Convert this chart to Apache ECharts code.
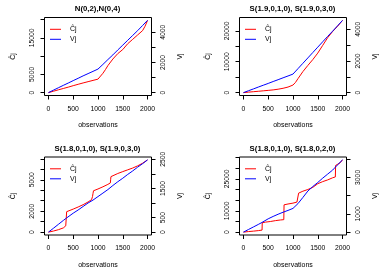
<!DOCTYPE html>
<html><head><meta charset="utf-8">
<script src="https://cdn.jsdelivr.net/npm/echarts@6/dist/echarts.min.js"></script>
<style>html,body{margin:0;padding:0;background:#fff}#c{width:390px;height:279px}</style>
</head><body><div id="c"></div>
<script>
const titles = ['N(0,2),N(0,4)', 'S(1.9,0,1,0), S(1.9,0,3,0)', 'S(1.8,0,1,0), S(1.9,0,3,0)', 'S(1.8,0,1,0), S(1.8,0,2,0)'];
const seriesNames = ['Ĉj', 'Vj'];
const xTicks = [0, 500, 1000, 1500, 2000];

// Panel 1
const obsC1 = [1,100,200,300,400,500,600,700,800,900,1000,1040,1100,1150,1200,1300,1400,1500,1600,1700,1800,1900,1950,2000];
const cj1 = [0,370,760,1130,1500,1900,2280,2650,3000,3350,3700,4100,5300,6300,7400,9200,10700,11800,13400,14600,15800,17000,18200,19800];
const obsV1 = [1,100,200,300,400,500,600,700,800,900,1000,1100,1200,1300,1400,1500,1600,1700,1800,1900,2000];
const vj1 = [0,160,320,480,635,795,950,1110,1260,1410,1560,1870,2190,2500,2830,3150,3470,3790,4110,4450,4790];
const cTicks1 = [0,5000,10000,15000,20000], cLabels1 = [0,5000,15000];
const vTicks1 = [0,1000,2000,3000,4000], vLabels1 = [0,2000,4000];

// Panel 2
const obsC2 = [1,100,200,300,400,500,600,700,800,900,1000,1050,1100,1200,1300,1400,1500,1600,1700,1800,1900,2000];
const cj2 = [0,150,290,430,580,720,880,1100,1400,1800,2450,3300,4500,6800,8800,10700,12800,15300,17800,19800,21500,23400];
const obsV2 = [1,100,200,300,400,500,600,700,800,900,1000,1100,1200,1300,1400,1500,1600,1700,1800,1900,2000];
const vj2 = [0,115,230,350,465,580,700,815,935,1050,1170,1510,1850,2190,2530,2870,3210,3550,3880,4220,4560];
const cTicks2 = [0,5000,10000,15000,20000], cLabels2 = [0,10000,20000];
const vTicks2 = [0,1000,2000,3000,4000], vLabels2 = [0,2000,4000];

// Panel 3
const obsC3 = [1,100,200,300,350,364,368,400,500,600,700,800,870,880,890,900,910,950,1000,1100,1200,1250,1256,1262,1300,1400,1500,1600,1700,1800,1900,2000];
const cj3 = [0,100,230,400,600,700,1950,2000,2200,2400,2620,2880,3100,3200,3400,3700,3950,4050,4120,4330,4560,4700,5050,5300,5420,5600,5780,5950,6120,6330,6580,6900];
const obsV3 = [1,100,200,300,370,380,500,600,700,800,900,1000,1100,1200,1300,1400,1500,1600,1700,1800,1900,2000];
const vj3 = [0,130,265,400,490,510,650,760,880,1000,1100,1220,1340,1460,1600,1730,1850,1980,2100,2230,2350,2480];
const cTicks3 = [0,1000,2000,3000,4000,5000,6000,7000], cLabels3 = [0,2000,5000];
const vTicks3 = [0,500,1000,1500,2000,2500], vLabels3 = [0,500,1500,2500];

// Panel 4
const obsC4 = [1,100,200,300,376,380,450,550,650,750,815,820,900,1000,1080,1108,1114,1200,1300,1400,1420,1500,1600,1700,1800,1855,1860,1950,2000];
const cj4 = [0,250,450,700,950,4400,4700,5000,5400,5700,5850,12800,13200,13600,14100,14500,18300,19200,20000,21000,21800,22700,23700,24500,25500,25900,31300,32500,33900];
const obsV4 = [1,100,200,300,375,385,500,600,700,800,900,1000,1100,1200,1300,1400,1500,1600,1700,1800,1900,2000];
const vj4 = [0,140,280,420,530,600,730,860,980,1090,1190,1300,1560,1900,2250,2500,2720,2960,3180,3400,3690,3960];
const cTicks4 = [0,5000,10000,15000,20000,25000,30000,35000], cLabels4 = [0,10000,25000];
const vTicks4 = [0,1000,2000,3000,4000], vLabels4 = [0,1000,3000];

const panels = [
  {obsC: obsC1, cj: cj1, obsV: obsV1, vj: vj1, cT: cTicks1, cL: cLabels1, vT: vTicks1, vL: vLabels1},
  {obsC: obsC2, cj: cj2, obsV: obsV2, vj: vj2, cT: cTicks2, cL: cLabels2, vT: vTicks2, vL: vLabels2},
  {obsC: obsC3, cj: cj3, obsV: obsV3, vj: vj3, cT: cTicks3, cL: cLabels3, vT: vTicks3, vL: vLabels3},
  {obsC: obsC4, cj: cj4, obsV: obsV4, vj: vj4, cT: cTicks4, cL: cLabels4, vT: vTicks4, vL: vLabels4}
];

const font = '"Liberation Sans", Arial, Helvetica, sans-serif';
const lblStyle = {fontSize: 6.8, color: '#000', fontFamily: font};
const nameStyle = {fontSize: 7, color: '#000', fontFamily: font};
function pad(arr) { const mn = Math.min(...arr), mx = Math.max(...arr), r = mx - mn; return [mn - 0.04 * r, mx + 0.04 * r]; }
const fmt = v => String(v);

const grids = [], xAxes = [], yAxes = [], series = [], titleArr = [], legends = [];
panels.forEach((p, i) => {
  const px = (i % 2) * 195, py = Math.floor(i / 2) * 139.5;
  const L = px + 44.5, T = py + 17.5, W = 107, H = 78;
  grids.push({left: L, top: T, width: W, height: H, show: true, borderColor: '#000', borderWidth: 1,
    backgroundColor: 'transparent', containLabel: false, outerBoundsMode: 'none'});
  const xr = pad(p.obsC.concat(p.obsV));
  xAxes.push({type: 'value', gridIndex: i, min: xr[0], max: xr[1], position: 'bottom',
    axisLine: {show: false, onZero: false}, splitLine: {show: false},
    axisTick: {show: true, length: 4, lineStyle: {color: '#000', width: 1}, customValues: xTicks},
    axisLabel: {customValues: xTicks, margin: 10, formatter: fmt, ...lblStyle},
    name: 'observations', nameLocation: 'middle', nameGap: 26.5, nameTextStyle: nameStyle});
  const cr = pad(p.cj), vr = pad(p.vj);
  yAxes.push({type: 'value', gridIndex: i, position: 'left', min: cr[0], max: cr[1],
    axisLine: {show: false, onZero: false}, splitLine: {show: false},
    axisTick: {show: true, length: 4, lineStyle: {color: '#000', width: 1}, customValues: p.cT},
    axisLabel: {customValues: p.cL, rotate: 90, margin: 9, formatter: fmt, ...lblStyle},
    name: seriesNames[0], nameLocation: 'middle', nameRotate: 90, nameGap: 27.5, nameTextStyle: nameStyle});
  yAxes.push({type: 'value', gridIndex: i, position: 'right', min: vr[0], max: vr[1],
    axisLine: {show: false, onZero: false}, splitLine: {show: false},
    axisTick: {show: true, length: 4, lineStyle: {color: '#000', width: 1}, customValues: p.vT},
    axisLabel: {customValues: p.vL, rotate: 90, margin: 8, formatter: fmt, ...lblStyle},
    name: seriesNames[1], nameLocation: 'middle', nameRotate: 90, nameGap: 25, nameTextStyle: nameStyle});
  series.push({type: 'line', name: seriesNames[0], xAxisIndex: i, yAxisIndex: 2 * i,
    data: p.obsC.map((x, k) => [x, p.cj[k]]), symbol: 'none', showSymbol: false,
    lineStyle: {color: '#ff0000', width: 1}, itemStyle: {color: '#ff0000'}, silent: true});
  series.push({type: 'line', name: seriesNames[1], xAxisIndex: i, yAxisIndex: 2 * i + 1,
    data: p.obsV.map((x, k) => [x, p.vj[k]]), symbol: 'none', showSymbol: false,
    lineStyle: {color: '#0000ff', width: 1}, itemStyle: {color: '#0000ff'}, silent: true});
  titleArr.push({text: titles[i], left: px + 97.5, top: py + 5, textAlign: 'center', padding: 0,
    textStyle: {fontSize: 7.8, fontWeight: 'bold', color: '#000', fontFamily: font}});
  legends.push({data: seriesNames, orient: 'vertical', left: px + 50, top: py + 24.3, padding: 0,
    itemGap: 0, itemWidth: 11, itemHeight: 1, icon: 'rect', selectedMode: false,
    textStyle: {fontSize: 7, color: '#000', fontFamily: font, lineHeight: 10, padding: [0, 0, 0, 4]}});
});

const chart = echarts.init(document.getElementById('c'), null, {renderer: 'canvas'});
chart.setOption({
  animation: false,
  backgroundColor: '#fff',
  title: titleArr,
  legend: legends,
  grid: grids,
  xAxis: xAxes,
  yAxis: yAxes,
  series: series
});
</script>
</body></html>
